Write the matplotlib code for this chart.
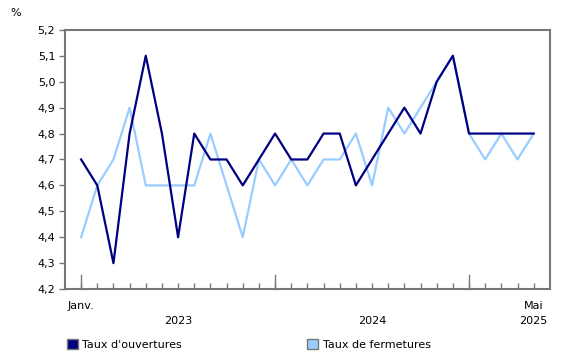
import matplotlib
matplotlib.use('Agg')
import matplotlib.pyplot as plt
from matplotlib.patches import Patch

# Monthly data, January 2023 to May 2025
months = list(range(29))
openings = [4.7, 4.6, 4.3, 4.8, 5.1, 4.8, 4.4, 4.8, 4.7, 4.7, 4.6, 4.7,
            4.8, 4.7, 4.7, 4.8, 4.8, 4.6, 4.7, 4.8, 4.9, 4.8, 5.0, 5.1,
            4.8, 4.8, 4.8, 4.8, 4.8]
closures = [4.4, 4.6, 4.7, 4.9, 4.6, 4.6, 4.6, 4.6, 4.8, 4.6, 4.4, 4.7,
            4.6, 4.7, 4.6, 4.7, 4.7, 4.8, 4.6, 4.9, 4.8, 4.9, 5.0, 5.1,
            4.8, 4.7, 4.8, 4.7, 4.8]
yticks = [4.2, 4.3, 4.4, 4.5, 4.6, 4.7, 4.8, 4.9, 5.0, 5.1, 5.2]
year_labels = [(6, '2023'), (18, '2024'), (28, '2025')]

dark = '#000080'
light = '#99ccff'
gray = '#777777'

fig = plt.figure(figsize=(5.8, 3.6), dpi=100)
ax = fig.add_axes([0.112, 0.197, 0.836, 0.72])

ax.plot(months, openings, color=dark, lw=1.6, zorder=3)
ax.plot(months, closures, color=light, lw=1.6, zorder=2)

ax.set_xlim(-1, 29)
ax.set_ylim(4.2, 5.2)
ax.set_yticks(yticks)
ax.set_yticklabels([f'{v:.1f}'.replace('.', ',') for v in yticks], fontsize=8)
ax.tick_params(axis='y', direction='out', length=4, color=gray, width=1, pad=3)

# month ticks inside, longer ticks at January
ax.set_xticks(months)
ax.set_xticklabels([])
ax.tick_params(axis='x', direction='in', length=4, color=gray, width=1)
for m in [0, 12, 24]:
    ax.plot([m, m], [4.2, 4.2 + 0.055], color=gray, lw=1, clip_on=False, zorder=4)

for s in ax.spines.values():
    s.set_color(gray)
    s.set_linewidth(1.5)

ax.text(0, -0.045, 'Janv.', transform=ax.get_xaxis_transform(), ha='center', va='top', fontsize=8)
ax.text(28, -0.045, 'Mai', transform=ax.get_xaxis_transform(), ha='center', va='top', fontsize=8)
for x, lab in year_labels:
    ax.text(x, -0.105, lab, transform=ax.get_xaxis_transform(), ha='center', va='top', fontsize=8)

fig.text(0.018, 0.965, '%', fontsize=8, va='center')

handles = [Patch(facecolor=dark, edgecolor=gray), Patch(facecolor=light, edgecolor=gray)]
fig.legend(handles[:1], ["Taux d'ouvertures"], loc='center left', bbox_to_anchor=(0.098, 0.042),
           frameon=False, fontsize=8, handlelength=1.0, handleheight=1.0, handletextpad=0.4)
fig.legend(handles[1:], ['Taux de fermetures'], loc='center left', bbox_to_anchor=(0.512, 0.042),
           frameon=False, fontsize=8, handlelength=1.0, handleheight=1.0, handletextpad=0.4)

fig.savefig('out.png', dpi=100)
